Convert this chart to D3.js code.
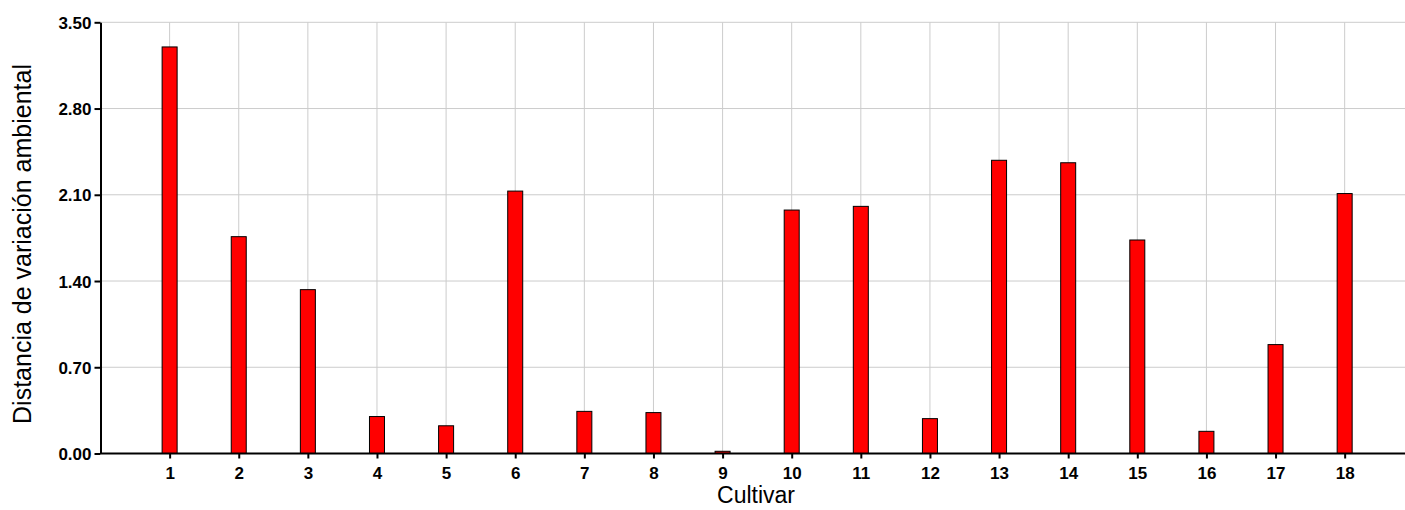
<!DOCTYPE html>
<html>
<head>
<meta charset="utf-8">
<script src="https://d3js.org/d3.v7.min.js"></script>
<style>
  body { margin: 0; background: #fff; }
  text { font-family: "Liberation Sans", Arial, sans-serif; }
</style>
</head>
<body>
<div id="chart"></div>
<script>
// cultivars 1..18 and their environmental variation distance
var cultivars = d3.range(1, 19);
var distances = [3.30, 1.76, 1.33, 0.30, 0.225, 2.13, 0.342, 0.332, 0.018, 1.976,
                 2.006, 0.283, 2.38, 2.36, 1.733, 0.18, 0.884, 2.11];
var yTicks = [0, 0.7, 1.4, 2.1, 2.8, 3.5];

var W = 1405, H = 510;
var plotLeft = 100.5, plotTop = 22.3, plotBottom = 453.5;

var svg = d3.select("#chart").append("svg")
    .attr("width", W)
    .attr("height", H);

var x = d3.scaleLinear().domain([0, 1]).range([plotLeft, plotLeft + 69.12]);
var y = d3.scaleLinear().domain([0, 3.5]).range([plotBottom, plotTop]);
var barW = 15;

// grid lines
svg.append("g").selectAll("line")
    .data(yTicks.filter(function (d) { return d > 0; }))
    .enter().append("line")
    .attr("x1", plotLeft).attr("x2", W)
    .attr("y1", function (d) { return y(d); })
    .attr("y2", function (d) { return y(d); })
    .attr("stroke", "#cccccc").attr("stroke-width", 1);

svg.append("g").selectAll("line")
    .data(cultivars)
    .enter().append("line")
    .attr("x1", function (d) { return x(d); })
    .attr("x2", function (d) { return x(d); })
    .attr("y1", plotTop).attr("y2", plotBottom)
    .attr("stroke", "#cccccc").attr("stroke-width", 1);

// bars
svg.append("g").selectAll("rect")
    .data(distances)
    .enter().append("rect")
    .attr("x", function (d, i) { return x(cultivars[i]) - barW / 2; })
    .attr("y", function (d) { return y(d); })
    .attr("width", barW)
    .attr("height", function (d) { return plotBottom - y(d); })
    .attr("fill", "#ff0000")
    .attr("stroke", "#000")
    .attr("stroke-width", 1);

// axes
var yAxis = d3.axisLeft(y).tickValues(yTicks)
    .tickFormat(d3.format(".2f")).tickSize(6).tickPadding(3).tickSizeOuter(0);
svg.append("g")
    .attr("transform", "translate(" + plotLeft + ",0)")
    .call(yAxis)
    .call(function (g) {
        g.select(".domain").attr("stroke-width", 2);
        g.selectAll(".tick line").attr("stroke-width", 2);
        g.selectAll(".tick text")
            .style("font-size", "17px").style("font-weight", "bold")
            .attr("dy", "0.36em");
    });

var xAxis = d3.axisBottom(x).tickValues(cultivars)
    .tickFormat(d3.format("d")).tickSize(5).tickPadding(8).tickSizeOuter(0);
svg.append("g")
    .attr("transform", "translate(0," + plotBottom + ")")
    .call(xAxis)
    .call(function (g) {
        g.select(".domain").attr("d", "M" + plotLeft + ",0H" + W).attr("stroke-width", 2);
        g.selectAll(".tick line").attr("stroke-width", 2);
        g.selectAll(".tick text")
            .style("font-size", "17px").style("font-weight", "bold");
    });

// axis titles
svg.append("text")
    .attr("transform", "translate(31,244) rotate(-90)")
    .attr("text-anchor", "middle")
    .style("font-size", "25px")
    .text("Distancia de variación ambiental");

svg.append("text")
    .attr("x", 756).attr("y", 503)
    .attr("text-anchor", "middle")
    .style("font-size", "23px")
    .text("Cultivar");
</script>
</body>
</html>
